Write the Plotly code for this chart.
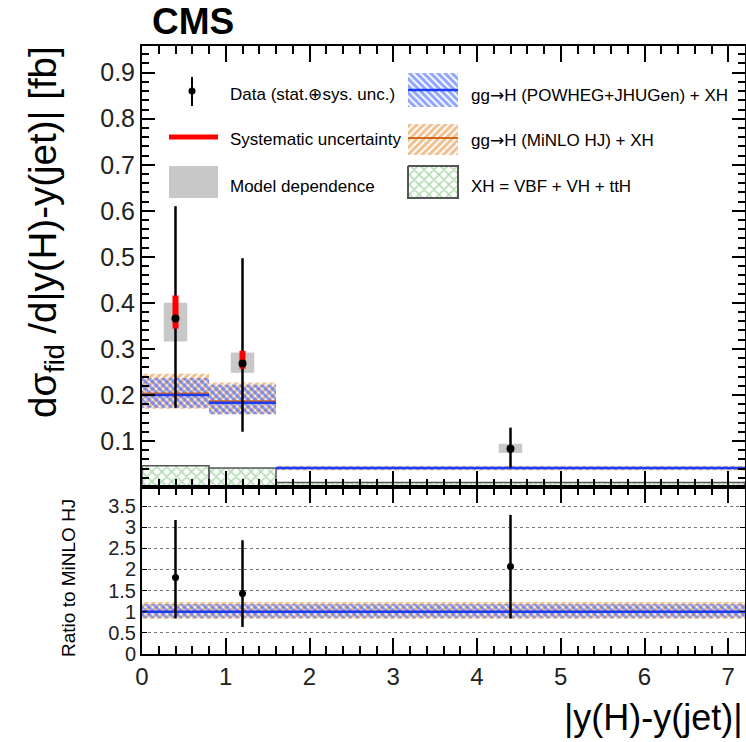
import plotly.graph_objects as go

# ---------------- data ----------------
bin_edges = [0.0, 0.8, 1.6, 7.2]

data_vals = [0.366, 0.268, 0.083]
data_err_up = [0.244, 0.229, 0.046]
data_err_dn = [0.194, 0.148, 0.041]
sys_err_up = [0.050, 0.028, 0.006]
sys_err_dn = [0.022, 0.011, 0.004]
model_lo = [0.316, 0.248, 0.074]
model_hi = [0.400, 0.292, 0.094]

powheg_val = [0.200, 0.183, 0.041]
powheg_lo = [0.172, 0.158, 0.038]
powheg_hi = [0.237, 0.222, 0.044]
minlo_val = [0.203, 0.186, 0.041]
minlo_lo = [0.170, 0.158, 0.036]
minlo_hi = [0.246, 0.227, 0.046]
xh_val = [0.046, 0.041, 0.010]

ratio_vals = [1.81, 1.43, 2.07]
ratio_err_up = [1.36, 1.26, 1.22]
ratio_err_dn = [0.97, 0.79, 1.23]
ratio_powheg = [1.0, 1.0, 1.0]
ratio_powheg_lo = [0.86, 0.86, 0.86]
ratio_powheg_hi = [1.18, 1.18, 1.18]
ratio_minlo = [1.0, 1.0, 1.0]
ratio_minlo_lo = [0.83, 0.83, 0.83]
ratio_minlo_hi = [1.23, 1.23, 1.23]

y_ticks_top = [0.1, 0.2, 0.3, 0.4, 0.5, 0.6, 0.7, 0.8, 0.9]
y_ticks_ratio = [0, 0.5, 1, 1.5, 2, 2.5, 3, 3.5]
x_ticks = [0, 1, 2, 3, 4, 5, 6, 7]

# ---------------- derived ----------------
centers = [(a + b) / 2 for a, b in zip(bin_edges[:-1], bin_edges[1:])]
widths = [b - a for a, b in zip(bin_edges[:-1], bin_edges[1:])]
MODEL_W = 0.28

BLUE = "#1a3cf5"
BLUE_H = "#1f4cff"
ORANGE = "#d2691e"
ORANGE_H = "#e07f20"
GREEN_H = "#66b866"
GRAY = "#c8c8c8"
RED = "#ff0000"
FONT = "Liberation Sans, Arial, sans-serif"
HS, HSOL = 5, 0.6

# pixel frame of the plotting area
PL, PR, PT, PB = 142, 745, 46, 654


def px(x):
    return (x - PL) / (PR - PL)


def py(y):
    return (PB - y) / (PB - PT)


def steps(lo_edges, hi_edges, vals):
    xs, ys = [], []
    for a, b, v in zip(lo_edges, hi_edges, vals):
        xs += [a, b, None]
        ys += [v, v, None]
    return xs, ys


def band(vals_lo, vals_hi, shape, fg, xa, ya, size=HS, sol=HSOL):
    return go.Bar(
        x=centers, y=[h - l for l, h in zip(vals_lo, vals_hi)], base=vals_lo,
        width=widths, xaxis=xa, yaxis=ya, showlegend=False, hoverinfo="skip",
        marker=dict(color="rgba(0,0,0,0)", line=dict(width=0),
                    pattern=dict(shape=shape, fgcolor=fg, bgcolor="rgba(0,0,0,0)",
                                 size=size, solidity=sol)))


fig = go.Figure()

# ---- top panel ----
fig.add_trace(go.Bar(
    x=centers, y=xh_val, base=[0] * len(xh_val), width=widths, xaxis="x", yaxis="y",
    showlegend=False, hoverinfo="skip",
    marker=dict(color="rgba(0,0,0,0)", line=dict(width=1.5, color="#555555"),
                pattern=dict(shape="x", fgcolor=GREEN_H, bgcolor="rgba(0,0,0,0)",
                             size=7, solidity=0.4))))
fig.add_trace(band(minlo_lo, minlo_hi, "/", ORANGE_H, "x", "y"))
fig.add_trace(band(powheg_lo, powheg_hi, "\\", BLUE_H, "x", "y"))
sx, sy = steps(bin_edges[:-1], bin_edges[1:], minlo_val)
fig.add_trace(go.Scatter(x=sx, y=sy, mode="lines", line=dict(color=ORANGE, width=2),
                         xaxis="x", yaxis="y", showlegend=False, hoverinfo="skip"))
sx, sy = steps(bin_edges[:-1], bin_edges[1:], powheg_val)
fig.add_trace(go.Scatter(x=sx, y=sy, mode="lines", line=dict(color=BLUE, width=2.5),
                         xaxis="x", yaxis="y", showlegend=False, hoverinfo="skip"))
# model dependence
fig.add_trace(go.Bar(
    x=centers, y=[h - l for l, h in zip(model_lo, model_hi)], base=model_lo,
    width=[MODEL_W] * len(centers), xaxis="x", yaxis="y", showlegend=False,
    marker=dict(color=GRAY, line=dict(width=0)), hoverinfo="skip"))
# total errors
fig.add_trace(go.Scatter(
    x=centers, y=data_vals, mode="markers", marker=dict(size=1, color="black"),
    error_y=dict(type="data", array=data_err_up, arrayminus=data_err_dn,
                 color="black", thickness=2.5, width=0),
    xaxis="x", yaxis="y", showlegend=False))
# systematic
fig.add_trace(go.Scatter(
    x=centers, y=data_vals, mode="markers", marker=dict(size=1, color=RED),
    error_y=dict(type="data", array=sys_err_up, arrayminus=sys_err_dn,
                 color=RED, thickness=6, width=0),
    xaxis="x", yaxis="y", showlegend=False))
fig.add_trace(go.Scatter(
    x=centers, y=data_vals, mode="markers", marker=dict(size=8, color="black"),
    xaxis="x", yaxis="y", showlegend=False))

# ---- ratio panel ----
fig.add_trace(band(ratio_minlo_lo, ratio_minlo_hi, "/", ORANGE_H, "x2", "y2"))
fig.add_trace(band(ratio_powheg_lo, ratio_powheg_hi, "\\", BLUE_H, "x2", "y2"))
sx, sy = steps(bin_edges[:-1], bin_edges[1:], ratio_minlo)
fig.add_trace(go.Scatter(x=sx, y=sy, mode="lines", line=dict(color=ORANGE, width=2),
                         xaxis="x2", yaxis="y2", showlegend=False, hoverinfo="skip"))
sx, sy = steps(bin_edges[:-1], bin_edges[1:], ratio_powheg)
fig.add_trace(go.Scatter(x=sx, y=sy, mode="lines", line=dict(color=BLUE, width=2.5),
                         xaxis="x2", yaxis="y2", showlegend=False, hoverinfo="skip"))
fig.add_trace(go.Scatter(
    x=centers, y=ratio_vals, mode="markers", marker=dict(size=7, color="black"),
    error_y=dict(type="data", array=ratio_err_up, arrayminus=ratio_err_dn,
                 color="black", thickness=2.5, width=0),
    xaxis="x2", yaxis="y2", showlegend=False))

# ---- hand-drawn legend in pixel coordinates (x3/y3) ----
def rect(x0, x1, y0, y1):
    return [x0, x1, x1, x0, x0], [y0, y0, y1, y1, y0]

ov = dict(xaxis="x3", yaxis="y3", showlegend=False, hoverinfo="skip")
fig.add_trace(go.Scatter(x=[192, 192], y=[77, 106], mode="lines",
                         line=dict(color="black", width=2), **ov))
fig.add_trace(go.Scatter(x=[192], y=[91], mode="markers",
                         marker=dict(size=7, color="black"), **ov))
fig.add_trace(go.Scatter(x=[169, 218], y=[137, 137], mode="lines",
                         line=dict(color=RED, width=5), **ov))
rx, ry = rect(169, 218, 166, 198)
fig.add_trace(go.Scatter(x=rx, y=ry, mode="lines", fill="toself", fillcolor=GRAY,
                         line=dict(width=0, color=GRAY), **ov))
rx, ry = rect(408, 458, 73, 107)
fig.add_trace(go.Scatter(x=rx, y=ry, mode="lines", fill="toself",
                         fillcolor="rgba(0,0,0,0)", line=dict(width=0, color=BLUE_H),
                         fillpattern=dict(shape="\\", fgcolor=BLUE_H, bgcolor="rgba(0,0,0,0)",
                                          size=HS, solidity=HSOL), **ov))
fig.add_trace(go.Scatter(x=[408, 458], y=[90, 90], mode="lines",
                         line=dict(color=BLUE, width=2.5), **ov))
rx, ry = rect(408, 458, 124, 155)
fig.add_trace(go.Scatter(x=rx, y=ry, mode="lines", fill="toself",
                         fillcolor="rgba(0,0,0,0)", line=dict(width=0, color=ORANGE_H),
                         fillpattern=dict(shape="/", fgcolor=ORANGE_H, bgcolor="rgba(0,0,0,0)",
                                          size=HS, solidity=HSOL), **ov))
fig.add_trace(go.Scatter(x=[408, 458], y=[138, 138], mode="lines",
                         line=dict(color=ORANGE, width=2), **ov))
rx, ry = rect(408, 458, 166, 198)
fig.add_trace(go.Scatter(x=rx, y=ry, mode="lines", fill="toself",
                         fillcolor="rgba(0,0,0,0)", line=dict(width=2, color="#555555"),
                         fillpattern=dict(shape="x", fgcolor=GREEN_H, bgcolor="rgba(0,0,0,0)",
                                          size=7, solidity=0.4), **ov))

ARROW = '<span style="font-family:DejaVu Sans">\u2192</span>'
legend_texts = [
    (228, 95, "Data (stat.\u2295sys. unc.)"),
    (228, 140, "Systematic uncertainty"),
    (228, 186, "Model dependence"),
    (469, 95, "gg" + ARROW + "H (POWHEG+JHUGen) + XH"),
    (469, 140, "gg" + ARROW + "H (MiNLO HJ) + XH"),
    (469, 186, "XH = VBF + VH + ttH"),
]
annotations = []
for x, y, t in legend_texts:
    annotations.append(dict(x=px(x), y=py(y), xref="paper", yref="paper", text=t,
                            showarrow=False, xanchor="left", yanchor="middle",
                            font=dict(family=FONT, size=17, color="black")))

annotations += [
    dict(x=px(150), y=py(22), xref="paper", yref="paper", text="<b>CMS</b>", showarrow=False,
         xanchor="left", yanchor="middle", font=dict(family=FONT, size=37, color="black")),
    dict(x=px(745), y=py(718), xref="paper", yref="paper", text="|y(H)-y(jet)|",
         showarrow=False, xanchor="right", yanchor="middle",
         font=dict(family=FONT, size=36, color="black")),
    dict(x=px(45), y=py(232), xref="paper", yref="paper",
         text="d\u03c3<sub>fid</sub> /d|y(H)-y(jet)| [fb]", textangle=-90, showarrow=False,
         xanchor="center", yanchor="middle", font=dict(family=FONT, size=38.5, color="black")),
    dict(x=px(68), y=py(578), xref="paper", yref="paper", text="Ratio to MiNLO HJ",
         textangle=-90, showarrow=False, xanchor="center", yanchor="middle",
         font=dict(family="Liberation Sans Narrow, " + FONT, size=19, color="black")),
]

RATIO_TOP = 0.2747
axis_common = dict(showline=True, linecolor="black", linewidth=2, mirror="ticks",
                   ticks="inside", zeroline=False, showgrid=False,
                   tickcolor="black", automargin=False)

fig.update_layout(
    width=746, height=742,
    margin=dict(l=PL, r=746 - PR, t=PT, b=742 - PB),
    paper_bgcolor="white", plot_bgcolor="rgba(0,0,0,0)",
    barmode="overlay", showlegend=False,
    font=dict(family=FONT, color="black"),
    xaxis=dict(domain=[0, 1], anchor="y", range=[0, 7.2], tickvals=x_ticks,
               showticklabels=False, ticklen=16, tickwidth=1.5,
               minor=dict(dtick=0.2, ticklen=8, ticks="inside", tickcolor="black", tickwidth=1.5),
               **axis_common),
    yaxis=dict(domain=[RATIO_TOP, 1], anchor="x", range=[0, 0.958], tickvals=y_ticks_top,
               ticktext=[f"{v:.1f}" for v in y_ticks_top], ticklen=13, tickwidth=1.5,
               tickfont=dict(size=25, family=FONT, color="#222"),
               minor=dict(dtick=0.02, ticklen=7, ticks="inside", tickcolor="black", tickwidth=1.5),
               **axis_common),
    xaxis2=dict(domain=[0, 1], anchor="y2", range=[0, 7.2], tickvals=x_ticks,
                ticktext=[str(v) for v in x_ticks], ticklen=16, tickwidth=1.5,
                tickfont=dict(size=24, family=FONT, color="#222"),
                minor=dict(dtick=0.2, ticklen=8, ticks="inside", tickcolor="black", tickwidth=1.5),
                **axis_common),
    yaxis2=dict(domain=[0, RATIO_TOP], anchor="x2", range=[0, 3.95], tickvals=y_ticks_ratio,
                ticktext=[f"{v:g}" for v in y_ticks_ratio], ticklen=5, tickwidth=1,
                tickfont=dict(size=20, family=FONT, color="#222"),
                showline=True, linecolor="black", linewidth=2, mirror="ticks",
                ticks="inside", zeroline=False, showgrid=True, gridcolor="#777",
                griddash="dot", gridwidth=1, tickcolor="black", automargin=False),
    xaxis3=dict(domain=[0, 1], anchor="y3", range=[PL, PR], visible=False, fixedrange=True),
    yaxis3=dict(domain=[0, 1], anchor="x3", range=[PB, PT], visible=False, fixedrange=True),
    annotations=annotations,
)

fig.write_html(
    "out.html",
    config={"displayModeBar": False},
    post_script="document.body.style.margin='0';document.body.style.padding='0';"
                "document.documentElement.style.overflow='hidden';",
)
